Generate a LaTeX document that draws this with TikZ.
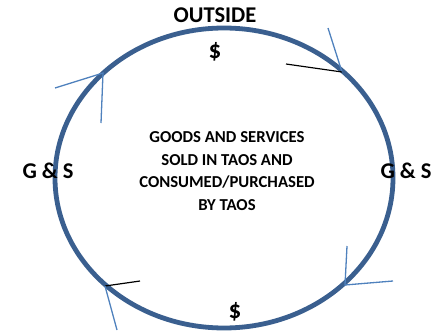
\documentclass[tikz,border=0pt]{standalone}
\usepackage{fontspec}
\setmainfont{Carlito}[UprightFont={* Bold}]
\usepackage{tikz}
\usetikzlibrary{positioning,calc}
\definecolor{ringblue}{HTML}{3A5F8F}
\definecolor{tickblue}{HTML}{4F81BD}

\begin{document}
\begin{tikzpicture}[x=1pt, y=-1pt]
  \useasboundingbox (0,0) rectangle (434,332);
  \tikzset{
    ring/.style={ringblue, line width=4.8pt},
    tick/.style={tickblue, line width=1.3pt},
    blackmark/.style={black, line width=1.2pt},
    big/.style={font=\fontsize{22.5}{24}\selectfont},
    cash/.style={font=\fontsize{25}{26}\selectfont},
    inner/.style={font=\fontsize{16.7}{22.7}\selectfont, align=center}
  }

  % Circular flow
  \draw[ring] (224,178) ellipse [x radius=169, y radius=150];

  % Points on the ring
  \coordinate (tr) at (342,72);
  \coordinate (tl) at (103,73);
  \coordinate (br) at (345,285);
  \coordinate (bl) at (105,286);

  % Free ends of the marks
  \coordinate (tr1) at (328,28);
  \coordinate (tr2) at (286,64);
  \coordinate (tl1) at (55,88);
  \coordinate (tl2) at (101,123);
  \coordinate (br1) at (347,246);
  \coordinate (br2) at (393,281);
  \coordinate (bl1) at (140,281);
  \coordinate (bl2) at (117,330);

  % Marks
  \draw[tick] (tr1) -- (tr);
  \draw[blackmark] (tr2) -- (tr);
  \draw[tick] (tl1) -- (tl) -- (tl2);
  \draw[tick] (br1) -- (br) -- (br2);
  \draw[blackmark] (bl1) -- (bl);
  \draw[tick] (bl) -- (bl2);

  % Labels
  \node[big] (outside) at (215,15) {OUTSIDE};
  \node[cash] (topcash) at (215,52) {\$};
  \node[cash] (botcash) at (235,312) {\$};
  \node[big] (gsleft) at (48,171) {G \& S};
  \node[big] (gsright) at (406,171) {G \& S};
  \node[inner] (centre) at (227,171) {GOODS AND SERVICES\\SOLD IN TAOS AND\\CONSUMED/PURCHASED\\BY TAOS};
\end{tikzpicture}
\end{document}
